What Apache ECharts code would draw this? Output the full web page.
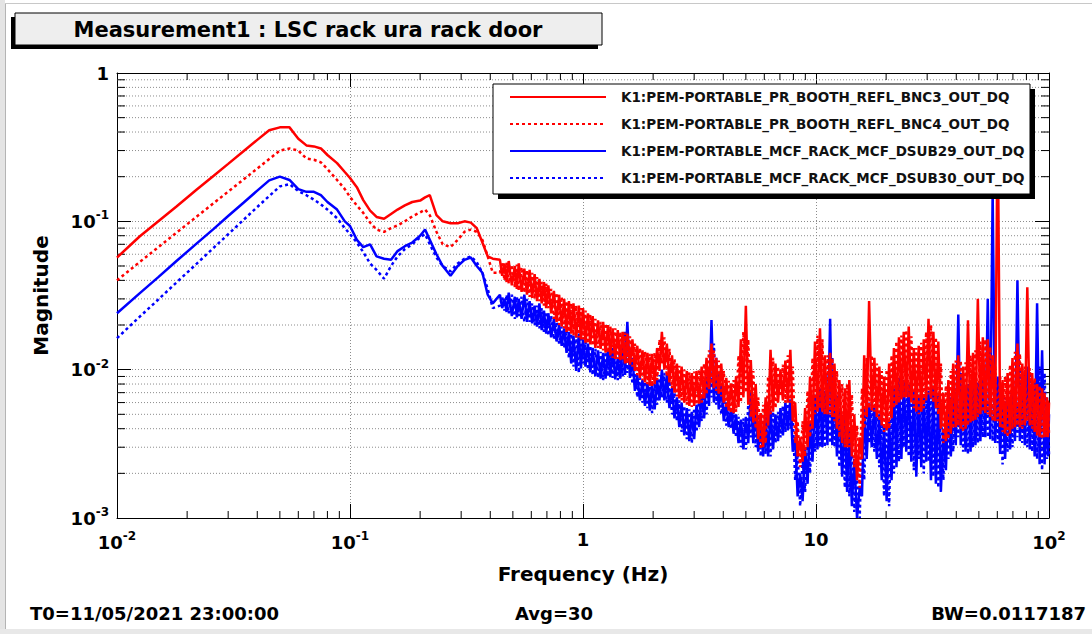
<!DOCTYPE html>
<html><head><meta charset="utf-8">
<script src="https://cdn.jsdelivr.net/npm/echarts@6/dist/echarts.min.js"></script>
<style>html,body{margin:0;padding:0;background:#fff}#c{width:1092px;height:634px}</style>
</head><body><div id="c"></div>
<script>
// ---------- data ----------
const seriesNames = [
  'K1:PEM-PORTABLE_PR_BOOTH_REFL_BNC3_OUT_DQ',
  'K1:PEM-PORTABLE_PR_BOOTH_REFL_BNC4_OUT_DQ',
  'K1:PEM-PORTABLE_MCF_RACK_MCF_DSUB29_OUT_DQ',
  'K1:PEM-PORTABLE_MCF_RACK_MCF_DSUB30_OUT_DQ'
];
// smooth low-frequency part
const freqLow = [0.01,0.0125,0.015,0.018,0.022,0.026,0.03,0.035,0.04,0.045,
  0.05,0.055,0.06,0.065,0.07,0.075,0.08,0.088,0.095,0.1,
  0.107,0.114,0.122,0.13,0.14,0.15,0.16,0.172,0.185,0.2,
  0.21,0.22,0.235,0.25,0.27,0.29,0.31,0.33,0.35,0.37,
  0.39,0.41];
const redSolidLow = [0.057,0.079,0.0998,0.126,0.164,0.203,0.244,0.298,0.354,0.411,
  0.43,0.43,0.36,0.325,0.32,0.31,0.28,0.247,0.215,0.196,
  0.17,0.139,0.118,0.107,0.104,0.112,0.12,0.128,0.135,0.138,
  0.145,0.15,0.11,0.1,0.097,0.097,0.1,0.098,0.09,0.072,
  0.058,0.056];
const redDashLow = [0.040,0.0531,0.0667,0.0838,0.1077,0.1327,0.1586,0.192,0.227,0.263,
  0.3,0.31,0.3,0.265,0.26,0.25,0.225,0.19,0.165,0.146,
  0.128,0.114,0.098,0.088,0.085,0.09,0.094,0.1,0.108,0.115,
  0.12,0.11,0.085,0.07,0.067,0.075,0.085,0.088,0.085,0.075,
  0.058,0.045];
const blueSolidLow = [0.024,0.0327,0.0419,0.054,0.071,0.089,0.1086,0.134,0.161,0.189,
  0.2,0.19,0.165,0.158,0.158,0.15,0.135,0.12,0.1,0.093,
  0.075,0.067,0.07,0.058,0.056,0.055,0.063,0.068,0.072,0.08,
  0.088,0.075,0.06,0.05,0.043,0.05,0.055,0.057,0.05,0.045,
  0.032,0.028];
const blueDashLow = [0.0163,0.0227,0.0296,0.0387,0.0519,0.0664,0.0818,0.1027,0.125,0.148,
  0.172,0.178,0.16,0.15,0.14,0.13,0.12,0.105,0.09,0.082,
  0.072,0.062,0.052,0.047,0.041,0.05,0.058,0.065,0.07,0.078,
  0.082,0.07,0.057,0.05,0.046,0.052,0.056,0.058,0.053,0.045,
  0.035,0.026];

// noisy part: two interleaved frequency grids
const freqHigh = [0.44,0.46,0.48,0.51,0.53,0.56,0.59,0.62,0.65,0.68,
  0.71,0.75,0.79,0.83,0.87,0.91,0.96,1.0,1.05,1.1,
  1.16,1.22,1.28,1.34,1.41,1.48,1.55,1.63,1.71,1.8,
  1.89,1.98,2.08,2.18,2.29,2.41,2.53,2.65,2.79,2.93,
  3.07,3.23,3.39,3.56,3.73,3.92,4.12,4.32,4.54,4.76,
  5.0,5.25,5.51,5.79,6.08,6.38,6.7,7.04,7.39,7.76,
  8.14,8.55,8.98,9.43,9.9,10.4,10.9,11.5,12.0,12.6,
  13.3,13.9,14.6,15.4,16.1,16.9,17.8,18.7,19.6,20.6,
  21.6,22.7,23.8,25.0,26.3,27.6,29.0,30.4,31.9,33.5,
  35.2,37.0,38.8,40.8,42.8,44.9,47.2,49.5,52.0,54.6,
  57.3,60.2,63.2,66.4,69.7,73.2,76.8,80.7,84.7,88.9,
  93.4,98.0,100];
const freqMid = [0.45,0.47,0.495,0.52,0.545,0.575,0.605,0.635,0.665,0.695,
  0.73,0.77,0.81,0.85,0.89,0.935,0.98,1.025,1.075,1.13,
  1.19,1.25,1.31,1.375,1.445,1.515,1.59,1.67,1.755,1.845,
  1.935,2.03,2.13,2.235,2.35,2.47,2.59,2.72,2.86,3.0,
  3.15,3.31,3.475,3.645,3.825,4.02,4.22,4.43,4.65,4.88,
  5.12,5.38,5.65,5.93,6.23,6.54,6.87,7.21,7.57,7.95,
  8.34,8.76,9.2,9.66,10.15,10.65,11.2,11.75,12.3,12.95,
  13.6,14.25,15.0,15.75,16.5,17.35,18.25,19.15,20.1,21.1,
  22.15,23.25,24.4,25.65,26.95,28.3,29.7,31.15,32.7,34.35,
  36.1,37.9,39.8,41.8,43.85,46.05,48.35,50.75,53.3,55.95,
  58.75,61.7,64.8,68.05,71.45,75.0,78.75,82.7,86.8,91.15,
  95.7,99];

const redSolidHigh = [.055,.052,.054,.050,.052,.048,.047,.044,.041,.039,
  .037,.034,.032,.030,.029,.028,.027,.026,.024,.023,
  .0215,.021,.020,.019,.0185,.018,.0175,.016,.0145,.0135,
  .013,.0128,.014,.018,.015,.0125,.011,.0105,.0098,.0095,
  .0098,.0105,.012,.015,.012,.011,.0088,.0081,.009,.016,
  .027,.0116,.008,.0051,.0065,.0136,.011,.010,.0115,.0136,
  .006,.0035,.0055,.009,.0155,.019,.0125,.013,.011,.0085,
  .0075,.0085,.005,.0035,.0125,.029,.012,.0105,.009,.011,
  .014,.0165,.018,.0195,.014,.0145,.016,.022,.018,.0155,
  .007,.0085,.011,.0125,.0105,.0215,.013,.03,.0165,.016,
  .0125,.55,.0085,.0095,.012,.015,.011,.036,.0095,.008,
  .0075,.0065,.006];
const redSolidMid = [.043,.039,.037,.035,.0335,.032,.0305,.029,.028,.026,
  .024,.021,.0195,.018,.0175,.0165,.016,.0152,.0148,.014,
  .0138,.013,.0125,.0118,.0116,.011,.0108,.0098,.0088,.0082,
  .0078,.008,.0098,.01,.0082,.007,.0064,.006,.0057,.0057,
  .0059,.0064,.0074,.0075,.0069,.006,.0053,.0051,.0056,.0065,
  .0058,.0044,.0034,.003,.0042,.0052,.006,.0062,.006,.0045,
  .0026,.0024,.003,.004,.0052,.0052,.005,.0048,.004,.0032,
  .003,.0026,.0018,.0025,.0048,.0053,.0048,.0042,.0039,.0047,
  .0058,.0063,.0065,.006,.0052,.0052,.0062,.0064,.0055,.004,
  .0033,.0037,.0041,.004,.004,.0044,.0046,.005,.0051,.0048,
  .0045,.0041,.0037,.0037,.0041,.0041,.0042,.0042,.0038,.0035,
  .0035,.0035];
const redDashHigh = [.045,.040,.038,.036,.034,.033,.031,.030,.029,.027,
  .026,.022,.020,.019,.018,.017,.0165,.016,.015,.0145,
  .014,.0135,.013,.012,.0118,.0115,.011,.0105,.0092,.0085,
  .008,.0077,.0085,.011,.009,.0075,.0066,.0062,.0058,.0056,
  .0058,.006,.0068,.008,.0072,.0066,.0055,.0051,.0052,.006,
  .007,.0048,.004,.0029,.0032,.005,.0055,.0066,.006,.006,
  .0032,.0022,.0026,.0035,.005,.0055,.005,.005,.0045,.0035,
  .003,.003,.0022,.0016,.004,.0055,.0052,.0045,.0038,.004,
  .0055,.006,.0065,.0065,.0055,.005,.0055,.0068,.006,.005,
  .0032,.0034,.004,.0042,.0038,.0042,.0045,.0048,.0052,.005,
  .0045,.0045,.0038,.0035,.004,.0042,.004,.0045,.004,.0036,
  .0034,.0035,.0036];
const redDashMid = [.053,.053,.051,.051,.049,.047,.045,.042,.039,.038,
  .035,.033,.031,.029,.028,.027,.026,.025,.0235,.022,
  .021,.0205,.0195,.019,.018,.0178,.0168,.015,.014,.0132,
  .0128,.013,.016,.0165,.0138,.0118,.0106,.010,.0096,.0097,
  .010,.011,.0135,.0135,.0115,.0098,.0084,.0085,.0125,.018,
  .016,.0098,.0065,.0058,.009,.012,.0105,.0108,.0125,.0105,
  .0045,.0045,.0072,.012,.017,.016,.0125,.012,.0098,.008,
  .008,.0068,.0042,.0075,.012,.0125,.011,.0098,.010,.0125,
  .0155,.017,.0185,.0168,.014,.0152,.018,.02,.0165,.011,
  .0078,.0098,.0115,.0115,.0112,.0125,.0135,.0155,.016,.0142,
  .0105,.0092,.009,.0108,.0132,.0128,.0105,.0102,.0088,.0078,
  .007,.0062];

const blueSolidHigh = [.032,.030,.033,.031,.030,.032,.029,.027,.028,.025,
  .024,.022,.020,.019,.018,.017,.0175,.016,.015,.014,
  .0135,.013,.0135,.014,.012,.0165,.021,.012,.0092,.0085,
  .0082,.008,.0085,.010,.0092,.0075,.0065,.006,.0055,.0052,
  .0058,.0068,.009,.0216,.012,.008,.006,.0055,.005,.0046,
  .0048,.0073,.0055,.0044,.0048,.0053,.005,.0055,.006,.0063,
  .0035,.002,.003,.0045,.0068,.0075,.0072,.022,.0085,.0055,
  .0048,.004,.0025,.0016,.0055,.006,.0058,.005,.0042,.0045,
  .0075,.0088,.0085,.008,.0072,.0068,.0065,.0072,.0078,.007,
  .004,.0062,.0068,.0235,.0075,.008,.0078,.0082,.0088,.03,
  .16,.009,.0062,.0068,.0072,.04,.0095,.0105,.008,.028,
  .0135,.0065,.005];
const blueSolidMid = [.026,.0245,.023,.0225,.022,.021,.0205,.0195,.0185,.0175,
  .0165,.0155,.0145,.013,.011,.0098,.0102,.0105,.0096,.009,
  .0087,.0087,.0089,.0086,.0087,.0092,.0088,.0072,.0062,.0057,
  .0053,.0054,.0062,.0062,.0055,.0047,.0041,.0036,.0033,.0034,
  .0041,.0047,.0057,.006,.0054,.0045,.0041,.0037,.0032,.0029,
  .0032,.0032,.0028,.0026,.0026,.0029,.0033,.0036,.0039,.0028,
  .0014,.0013,.0017,.0024,.0029,.003,.0031,.0031,.0026,.0019,
  .0015,.0012,.001,.0014,.0025,.003,.0025,.0018,.0013,.0018,
  .0022,.0025,.0028,.0024,.0019,.0022,.0024,.0018,.0017,.0015,
  .0021,.0026,.0031,.0031,.0028,.0028,.0031,.0033,.0035,.0034,
  .0032,.0027,.0025,.0029,.0033,.0033,.0031,.0029,.0026,.0023,
  .0023,.0026];
const blueDashHigh = [.027,.025,.024,.022,.023,.021,.021,.020,.019,.018,
  .017,.016,.015,.014,.012,.0105,.0095,.011,.010,.0092,
  .0088,.0085,.009,.0088,.0085,.009,.0095,.008,.0065,.006,
  .0055,.0051,.0058,.0065,.006,.005,.0045,.0038,.0034,.0032,
  .0038,.0045,.005,.0065,.0058,.005,.0042,.004,.0035,.003,
  .0029,.0035,.003,.0026,.0027,.0026,.0032,.0035,.0038,.004,
  .0018,.0012,.0015,.002,.0028,.003,.003,.0032,.003,.0022,
  .0016,.0014,.0011,.001,.0018,.0032,.0028,.0022,.0014,.0012,
  .002,.0024,.003,.0026,.0021,.0025,.002,.0024,.0019,.0016,
  .0018,.0025,.0028,.0035,.0028,.0027,.003,.0032,.0035,.0035,
  .0033,.0032,.0023,.0028,.003,.0035,.0032,.003,.0028,.0025,
  .0021,.0025,.0026];
const blueDashMid = [.031,.032,.032,.031,.031,.030,.028,.027,.026,.0245,
  .023,.021,.0195,.0185,.0175,.017,.0168,.0155,.0145,.0138,
  .0132,.0132,.0138,.013,.0145,.018,.0135,.0105,.0088,.0083,
  .0081,.0082,.0092,.0095,.0084,.007,.0062,.0057,.0054,.0055,
  .0062,.0078,.0095,.015,.0095,.0068,.0058,.0052,.0048,.0047,
  .0058,.0062,.005,.0046,.005,.0052,.0052,.0057,.0062,.0048,
  .0027,.0025,.0038,.0055,.0072,.0073,.0095,.012,.0068,.005,
  .0044,.0032,.002,.0035,.0058,.0059,.0054,.0046,.0044,.006,
  .0082,.0086,.0082,.0076,.007,.0066,.0068,.0075,.0074,.0055,
  .0052,.0065,.0075,.0095,.0078,.0079,.008,.0085,.0092,.0105,
  .0088,.0075,.0065,.007,.0078,.0098,.0098,.0092,.0085,.0105,
  .0095,.0058];

const xTickValues = [0.01, 0.1, 1, 10, 100];
const xTickLabels = ['{b|10}{s|-2}', '{b|10}{s|-1}', '{b|1}', '{b|10}', '{b|10}{s|2}'];
const yTickValues = [0.001, 0.01, 0.1, 1];
const yTickLabels = ['{b|10}{s|-3}', '{b|10}{s|-2}', '{b|10}{s|-1}', '{b|1}'];
const xMinorTicks = [0.02,0.03,0.04,0.05,0.06,0.07,0.08,0.09,0.2,0.3,0.4,0.5,0.6,0.7,0.8,0.9,2,3,4,5,6,7,8,9,20,30,40,50,60,70,80,90];
const yMinorTicks = [0.002,0.003,0.004,0.005,0.006,0.007,0.008,0.009,0.02,0.03,0.04,0.05,0.06,0.07,0.08,0.09,0.2,0.3,0.4,0.5,0.6,0.7,0.8,0.9];

const titleText = 'Measurement1 : LSC rack ura rack door';
const xName = 'Frequency (Hz)';
const yName = 'Magnitude';
const footLeft = 'T0=11/05/2021 23:00:00';
const footMid = 'Avg=30';
const footRight = 'BW=0.0117187';

// ---------- chart ----------
const FONT = 'DejaVu Sans';
const X0 = 0.01, X1 = 100, Y0 = 0.001, Y1 = 1;
function pairs(f, v) { return f.map((x, i) => [x, v[i]]); }
function build(low, high, mid) {
  const noisy = pairs(freqHigh, high).concat(pairs(freqMid, mid)).sort((a, b) => a[0] - b[0]);
  return pairs(freqLow, low).concat(noisy);
}
function lookup(vals, labs, v) {
  for (let i = 0; i < vals.length; i++) {
    if (Math.abs(Math.log10(v) - Math.log10(vals[i])) < 1e-6) return labs[i];
  }
  return '';
}
const rich = {
  b: {fontFamily: FONT, fontWeight: 'bold', fontSize: 18, color: '#000'},
  s: {fontFamily: FONT, fontWeight: 'bold', fontSize: 12, color: '#000', padding: [0, 0, 12, 0]}
};
const RED = '#ff0000', BLUE = '#0000ff';
function lineSeries(name, data, color, dashed, z) {
  return {
    name, type: 'line', data, xAxisIndex: 0, yAxisIndex: 0,
    symbol: 'none', showSymbol: false, animation: false, z,
    lineStyle: {color, width: 2.5, type: dashed ? [3, 3] : 'solid'},
    itemStyle: {color},
    emphasis: {disabled: true}
  };
}

const chart = echarts.init(document.getElementById('c'), null, {renderer: 'svg'});
const option = {
  animation: false,
  backgroundColor: '#ffffff',
  grid: {left: 117, right: 43, top: 73, bottom: 116, containLabel: false},
  xAxis: [{
    type: 'log', logBase: 10, min: X0, max: X1, position: 'bottom',
    name: xName, nameLocation: 'middle', nameGap: 46,
    nameTextStyle: {fontFamily: FONT, fontWeight: 'bold', fontSize: 20, color: '#000'},
    axisLine: {show: true, lineStyle: {color: '#000', width: 1}},
    axisTick: {show: true, inside: true, length: 14, lineStyle: {color: '#000'}},
    axisLabel: {margin: 12, formatter: v => lookup(xTickValues, xTickLabels, v), rich},
    splitLine: {show: true, lineStyle: {color: '#8c8c8c', width: 1, type: [1, 2]}}
  }, {
    type: 'log', logBase: 10, min: X0, max: X1, position: 'top',
    axisLine: {show: true, lineStyle: {color: '#000', width: 1}},
    axisTick: {show: true, inside: true, length: 14, lineStyle: {color: '#000'}},
    axisLabel: {show: false}, splitLine: {show: false}
  }],
  yAxis: [{
    type: 'log', logBase: 10, min: Y0, max: Y1, position: 'left',
    name: yName, nameLocation: 'middle', nameGap: 66, nameRotate: 90,
    nameTextStyle: {fontFamily: FONT, fontWeight: 'bold', fontSize: 20, color: '#000'},
    axisLine: {show: true, lineStyle: {color: '#000', width: 1}},
    axisTick: {show: true, inside: true, length: 14, lineStyle: {color: '#000'}},
    axisLabel: {margin: 8, formatter: v => lookup(yTickValues, yTickLabels, v), rich},
    splitLine: {show: true, lineStyle: {color: '#8c8c8c', width: 1, type: [1, 2]}}
  }, {
    type: 'log', logBase: 10, min: Y0, max: Y1, position: 'right',
    axisLine: {show: true, lineStyle: {color: '#000', width: 1}},
    axisTick: {show: true, inside: true, length: 14, lineStyle: {color: '#000'}},
    axisLabel: {show: false}, splitLine: {show: false}
  }],
  legend: {
    data: seriesNames, orient: 'vertical', left: 509, top: 90, padding: 0,
    itemWidth: 96, itemHeight: 14, itemGap: 13, selectedMode: false, z: 12,
    itemStyle: {opacity: 0},
    textStyle: {fontFamily: FONT, fontWeight: 'bold', fontSize: 13.5, color: '#111', padding: [0, 0, 0, 10]}
  },
  graphic: [
    // window frame
    {type: 'rect', z: 0, shape: {x: 0, y: 0, width: 5, height: 634}, style: {fill: '#e4e4e4'}},
    {type: 'line', z: 0, shape: {x1: 5.5, y1: 4, x2: 5.5, y2: 629}, style: {stroke: '#b4b4b4', lineWidth: 1}},
    {type: 'line', z: 0, shape: {x1: 5, y1: 3.5, x2: 1092, y2: 3.5}, style: {stroke: '#c8c8c8', lineWidth: 1}},
    {type: 'rect', z: 0, shape: {x: 0, y: 629, width: 1092, height: 5}, style: {fill: '#e8e8e8'}},
    // title box
    {type: 'rect', z: 10, shape: {x: 11, y: 17, width: 587, height: 32}, style: {fill: '#000'}},
    {type: 'rect', z: 11, shape: {x: 15, y: 13, width: 587, height: 32}, style: {fill: '#eeeeee', stroke: '#000', lineWidth: 1}},
    {type: 'text', z: 12, x: 308, y: 30, style: {text: titleText, fill: '#000', font: 'bold 21px "DejaVu Sans"', align: 'center', verticalAlign: 'middle'}},
    // legend box
    {type: 'rect', z: 10, shape: {x: 498, y: 89, width: 537, height: 110}, style: {fill: '#000'}},
    {type: 'rect', z: 11, shape: {x: 493, y: 84, width: 537, height: 110}, style: {fill: '#fff', stroke: '#000', lineWidth: 1}},
    // footer
    {type: 'text', z: 12, x: 30, y: 613, style: {text: footLeft, fill: '#000', font: 'bold 18px "DejaVu Sans"', align: 'left', verticalAlign: 'middle'}},
    {type: 'text', z: 12, x: 554, y: 613, style: {text: footMid, fill: '#000', font: 'bold 18px "DejaVu Sans"', align: 'center', verticalAlign: 'middle'}},
    {type: 'text', z: 12, x: 1086, y: 613, style: {text: footRight, fill: '#000', font: 'bold 18px "DejaVu Sans"', align: 'right', verticalAlign: 'middle'}}
  ],
  series: [
    {
      type: 'custom', coordinateSystem: 'cartesian2d', silent: true, z: 1, animation: false,
      data: yMinorTicks.map(v => [1, v]),
      renderItem(params, api) {
        const v = api.value(1);
        const a = api.coord([X0, v]), b = api.coord([X1, v]);
        return {type: 'group', children: [
          {type: 'line', shape: {x1: a[0], y1: a[1], x2: b[0], y2: b[1]}, style: {stroke: '#8c8c8c', lineWidth: 1, lineDash: [1, 2]}},
          {type: 'line', shape: {x1: a[0], y1: a[1], x2: a[0] + 8, y2: a[1]}, style: {stroke: '#000', lineWidth: 1}},
          {type: 'line', shape: {x1: b[0] - 8, y1: b[1], x2: b[0], y2: b[1]}, style: {stroke: '#000', lineWidth: 1}}
        ]};
      }
    },
    {
      type: 'custom', coordinateSystem: 'cartesian2d', silent: true, z: 1, animation: false,
      data: xMinorTicks.map(v => [v, 0.01]),
      renderItem(params, api) {
        const v = api.value(0);
        const a = api.coord([v, Y0]), b = api.coord([v, Y1]);
        return {type: 'group', children: [
          {type: 'line', shape: {x1: a[0], y1: a[1], x2: a[0], y2: a[1] - 7}, style: {stroke: '#000', lineWidth: 1}},
          {type: 'line', shape: {x1: b[0], y1: b[1], x2: b[0], y2: b[1] + 7}, style: {stroke: '#000', lineWidth: 1}}
        ]};
      }
    },
    lineSeries(seriesNames[3], build(blueDashLow, blueDashHigh, blueDashMid), BLUE, true, 3),
    lineSeries(seriesNames[2], build(blueSolidLow, blueSolidHigh, blueSolidMid), BLUE, false, 4),
    lineSeries(seriesNames[1], build(redDashLow, redDashHigh, redDashMid), RED, true, 5),
    lineSeries(seriesNames[0], build(redSolidLow, redSolidHigh, redSolidMid), RED, false, 6)
  ]
};
chart.setOption(option);
</script>
</body></html>
